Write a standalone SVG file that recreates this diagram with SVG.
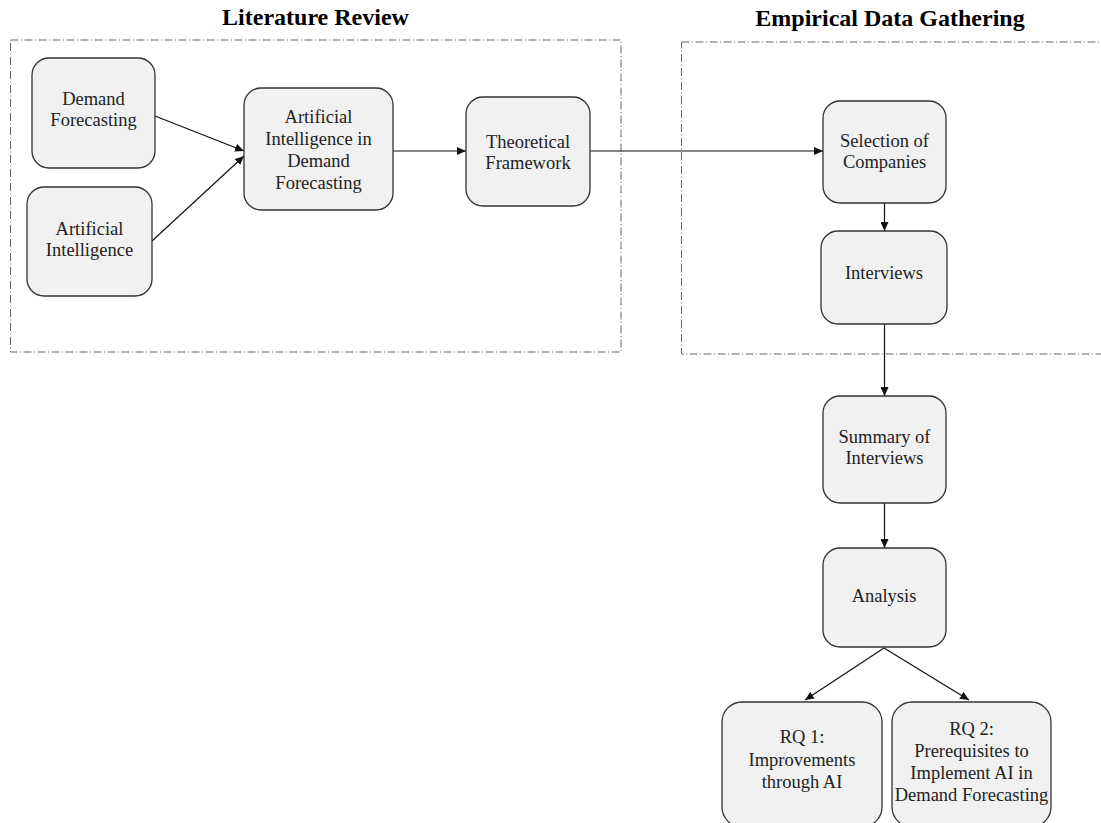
<svg xmlns="http://www.w3.org/2000/svg" width="1101" height="823" viewBox="0 0 1101 823">
<defs>
<style>
.title{font-family:"Liberation Serif","Times New Roman",serif;font-weight:bold;font-size:24px;fill:#000;text-anchor:middle}
.lbl{font-family:"Liberation Serif","Times New Roman",serif;font-size:18.5px;fill:#222;text-anchor:middle}
.node{fill:#f1f1f1;stroke:#333;stroke-width:1.3}
.group{fill:none;stroke:#666;stroke-width:1;stroke-dasharray:8 2.5 1 2.5}
.edge{fill:none;stroke:#111;stroke-width:1.2;marker-end:url(#arr)}
</style>
<marker id="arr" markerUnits="userSpaceOnUse" markerWidth="10" markerHeight="8" refX="9" refY="4" orient="auto">
<path d="M0,0 L9,4 L0,8 z" fill="#111"/>
</marker>
</defs>
<rect width="1101" height="823" fill="#fff"/>

<g id="group-literature">
<rect class="group" x="10.5" y="40" width="610.5" height="312"/>
<text class="title" x="315.5" y="25">Literature Review</text>
</g>
<g id="group-empirical">
<rect class="group" x="681.5" y="42" width="440" height="312"/>
<text class="title" x="890" y="26">Empirical Data Gathering</text>
</g>

<g id="connectors">
<line class="edge" x1="155" y1="116" x2="244" y2="151"/>
<line class="edge" x1="152" y1="241" x2="244" y2="156"/>
<line class="edge" x1="393" y1="151" x2="466" y2="151"/>
<line class="edge" x1="590" y1="151" x2="823" y2="151"/>
<line class="edge" x1="884.5" y1="203" x2="884.5" y2="231"/>
<line class="edge" x1="884.5" y1="324" x2="884.5" y2="396"/>
<line class="edge" x1="884.5" y1="503" x2="884.5" y2="548"/>
<line class="edge" x1="884" y1="648" x2="805" y2="700"/>
<line class="edge" x1="884" y1="648" x2="969" y2="700"/>
</g>

<g id="node-demand-forecasting">
<rect class="node" x="32" y="58" width="123" height="110" rx="17"/>
<text class="lbl" x="93.5" y="105">Demand</text>
<text class="lbl" x="93.5" y="126">Forecasting</text>
</g>
<g id="node-artificial-intelligence">
<rect class="node" x="27" y="187" width="125" height="109" rx="17"/>
<text class="lbl" x="89.5" y="235">Artificial</text>
<text class="lbl" x="89.5" y="256">Intelligence</text>
</g>
<g id="node-ai-in-df">
<rect class="node" x="244" y="88" width="149" height="122" rx="17"/>
<text class="lbl" x="318.5" y="123">Artificial</text>
<text class="lbl" x="318.5" y="145">Intelligence in</text>
<text class="lbl" x="318.5" y="167">Demand</text>
<text class="lbl" x="318.5" y="189">Forecasting</text>
</g>
<g id="node-theoretical-framework">
<rect class="node" x="466" y="97" width="124" height="109" rx="17"/>
<text class="lbl" x="528" y="148">Theoretical</text>
<text class="lbl" x="528" y="169">Framework</text>
</g>
<g id="node-selection">
<rect class="node" x="823" y="101" width="123" height="102" rx="17"/>
<text class="lbl" x="884.5" y="146.5">Selection of</text>
<text class="lbl" x="884.5" y="167.5">Companies</text>
</g>
<g id="node-interviews">
<rect class="node" x="821" y="231" width="126" height="93" rx="17"/>
<text class="lbl" x="884" y="279">Interviews</text>
</g>
<g id="node-summary">
<rect class="node" x="823" y="396" width="123" height="107" rx="17"/>
<text class="lbl" x="884.5" y="442.5">Summary of</text>
<text class="lbl" x="884.5" y="463.5">Interviews</text>
</g>
<g id="node-analysis">
<rect class="node" x="823" y="548" width="123" height="99" rx="17"/>
<text class="lbl" x="884" y="601.5">Analysis</text>
</g>
<g id="node-rq1">
<rect class="node" x="722" y="702" width="160" height="125" rx="20"/>
<text class="lbl" x="802" y="743">RQ 1:</text>
<text class="lbl" x="802" y="766">Improvements</text>
<text class="lbl" x="802" y="788">through AI</text>
</g>
<g id="node-rq2">
<rect class="node" x="892" y="702" width="159" height="125" rx="20"/>
<text class="lbl" x="971.5" y="735">RQ 2:</text>
<text class="lbl" x="971.5" y="757">Prerequisites to</text>
<text class="lbl" x="971.5" y="779">Implement AI in</text>
<text class="lbl" x="971.5" y="801">Demand Forecasting</text>
</g>
</svg>
